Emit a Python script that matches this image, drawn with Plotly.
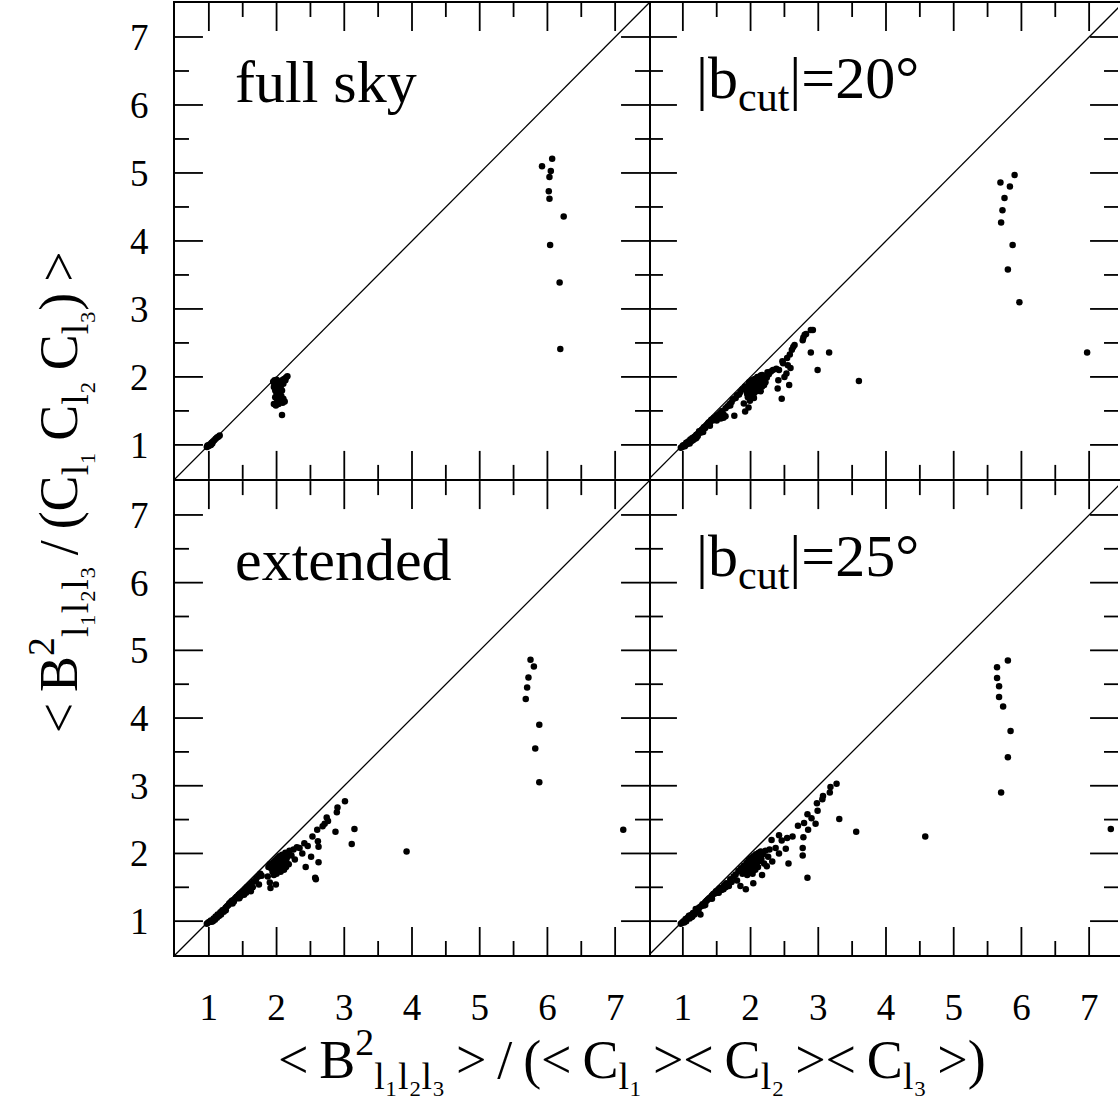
import plotly.graph_objects as go

# ---------------- data ----------------
ticks = [1, 2, 3, 4, 5, 6, 7]
minor_ticks = [1.5, 2.5, 3.5, 4.5, 5.5, 6.5]
diag = [0.5, 7.5]

fs_x = [0.97, 0.99, 1.00, 1.02, 1.04, 1.06, 1.08, 1.10, 1.12, 1.14, 1.16, 1.01, 1.03, 1.05, 0.98,
        1.95, 1.97, 1.99, 2.02, 2.05, 2.08, 2.11, 2.14, 2.16, 2.13, 2.10, 1.96, 1.98, 2.00, 2.02, 1.98,
        2.01, 2.04, 2.07, 2.10, 2.12, 2.09, 1.96, 1.99, 2.03, 2.06, 2.03, 2.08, 2.00, 1.97, 2.08, 2.05,
        6.07, 5.92, 6.05, 6.03, 6.02, 6.03, 6.24, 6.04, 6.18, 6.19]
fs_y = [0.97, 0.98, 1.00, 1.01, 1.03, 1.05, 1.07, 1.09, 1.11, 1.12, 1.14, 0.99, 1.00, 1.02, 0.99,
        1.93, 1.90, 1.88, 1.91, 1.93, 1.95, 1.97, 1.99, 2.01, 1.95, 1.90, 1.85, 1.80, 1.76, 1.72, 1.70,
        1.66, 1.68, 1.72, 1.68, 1.64, 1.62, 1.60, 1.58, 1.60, 1.84, 1.82, 1.80, 1.96, 1.95, 1.44, 1.76,
        5.21, 5.10, 5.03, 4.94, 4.73, 4.62, 4.36, 3.94, 3.39, 2.41]

b20_x = [0.97, 0.99, 1.00, 1.02, 1.03, 1.05, 1.06, 1.08, 1.09, 1.11, 1.12, 1.14, 1.15, 1.17, 1.18,
         1.20, 1.22, 1.24, 1.26, 1.28, 1.29, 1.31, 1.33, 1.35, 1.37, 1.38, 1.40, 1.42, 1.44, 1.46,
         1.48, 1.50, 1.52, 1.55, 1.56, 1.58, 1.60, 1.63, 1.63, 1.66, 1.69, 1.72, 1.76, 1.74, 1.78,
         1.80, 1.83, 1.85, 1.10, 1.20, 1.30, 1.40, 1.50, 1.60, 1.70,
         1.88, 1.90, 1.92, 1.92, 1.94, 1.95, 1.96, 1.97, 1.97, 1.98, 1.99, 2.00, 2.01, 2.02, 2.03,
         2.04, 2.05, 2.06, 2.07, 2.08, 2.09, 2.10, 2.11, 2.12, 2.12, 2.14, 2.15, 2.15, 2.17, 2.17,
         2.19, 2.22, 2.25, 2.30, 2.05, 1.99, 2.13, 2.20, 2.24, 2.27,
         2.33, 2.38, 2.42, 2.41, 2.40, 2.46, 2.47, 2.54, 2.57, 2.53, 2.59, 2.58, 2.61, 2.63, 2.65,
         2.77, 2.78, 2.80, 2.82, 2.89, 2.92, 2.89, 2.99, 3.16, 3.60, 2.48, 2.55, 2.50,
         5.90, 5.69, 5.83, 5.75, 5.72, 5.70, 5.87, 5.80, 5.97, 6.97]
b20_y = [0.96, 0.97, 0.99, 1.00, 0.98, 1.03, 1.01, 1.05, 1.03, 1.08, 1.05, 1.10, 1.07, 1.12, 1.09,
         1.15, 1.13, 1.20, 1.18, 1.22, 1.20, 1.26, 1.25, 1.29, 1.31, 1.33, 1.33, 1.37, 1.36, 1.40,
         1.39, 1.43, 1.44, 1.47, 1.39, 1.50, 1.45, 1.54, 1.42, 1.57, 1.60, 1.63, 1.43, 1.67, 1.69,
         1.73, 1.74, 1.78, 1.02, 1.10, 1.19, 1.28, 1.36, 1.40, 1.58,
         1.82, 1.61, 1.49, 1.86, 1.80, 1.75, 1.70, 1.55, 1.88, 1.92, 1.84, 1.78, 1.72, 1.95, 1.88,
         1.82, 1.76, 1.97, 1.91, 1.85, 1.79, 2.00, 1.94, 1.88, 1.98, 1.92, 1.79, 2.02, 2.03, 1.86,
         1.95, 1.92, 2.07, 2.08, 1.69, 1.65, 1.83, 1.88, 1.99, 2.04,
         2.10, 2.12, 2.10, 1.95, 1.83, 1.68, 2.23, 2.28, 1.88, 2.05, 2.13, 2.33, 2.40, 2.44, 2.47,
         2.54, 2.58, 2.62, 2.63, 2.69, 2.69, 2.36, 2.10, 2.36, 1.94, 2.20, 2.17, 2.00,
         4.97, 4.86, 4.80, 4.63, 4.45, 4.27, 3.94, 3.58, 3.10, 2.36]

ext_x = [0.97, 0.99, 1.01, 1.03, 1.04, 1.06, 1.07, 1.09, 1.10, 1.12, 1.13, 1.15, 1.17, 1.18, 1.20,
         1.22, 1.23, 1.25, 1.27, 1.29, 1.30, 1.32, 1.34, 1.36, 1.37, 1.39, 1.41, 1.42, 1.44, 1.46,
         1.47, 1.49, 1.51, 1.52, 1.54, 1.56, 1.58, 1.60, 1.62, 1.63, 1.66, 1.69, 1.70, 1.74, 1.73,
         1.78, 1.76, 1.15, 1.25, 1.35, 1.45, 1.55, 1.65,
         1.87, 1.90, 1.91, 1.99, 1.88, 1.90, 1.92, 1.94, 1.95, 1.96, 1.97, 1.98, 1.99, 2.00, 2.01,
         2.02, 2.03, 2.04, 2.05, 2.06, 2.07, 2.08, 2.09, 2.10, 2.11, 2.12, 2.13, 2.14, 2.15, 2.17,
         2.19, 2.18, 2.14, 2.22, 2.27, 2.25, 2.30,
         2.34, 2.38, 2.43, 2.46, 2.51, 2.53, 2.57, 2.60, 2.61, 2.62, 2.62, 2.68, 2.71, 2.74, 2.76,
         2.87, 2.89, 2.90, 3.01, 3.11, 3.15, 3.92, 2.41, 2.58,
         5.75, 5.80, 5.72, 5.70, 5.68, 5.88, 5.82, 5.88, 7.12]
ext_y = [0.96, 0.98, 0.99, 1.01, 0.99, 1.00, 1.04, 1.02, 1.07, 1.05, 1.10, 1.08, 1.13, 1.10, 1.16,
         1.14, 1.17, 1.20, 1.22, 1.24, 1.26, 1.28, 1.30, 1.31, 1.29, 1.34, 1.36, 1.34, 1.39, 1.41,
         1.37, 1.43, 1.45, 1.39, 1.48, 1.50, 1.45, 1.53, 1.44, 1.56, 1.59, 1.59, 1.63, 1.54, 1.66,
         1.67, 1.70, 1.08, 1.16, 1.26, 1.34, 1.42, 1.50,
         1.66, 1.57, 1.49, 1.54, 1.80, 1.84, 1.78, 1.73, 1.87, 1.68, 1.82, 1.90, 1.76, 1.70, 1.93,
         1.85, 1.79, 1.96, 1.88, 1.73, 1.82, 1.98, 1.91, 1.85, 1.76, 1.95, 2.01, 1.88, 1.93, 2.00,
         2.04, 1.84, 1.80, 1.97, 1.91, 2.06, 2.09,
         2.08, 2.00, 1.80, 2.11, 1.95, 2.25, 1.64, 2.35, 2.18, 2.10, 1.87, 2.40, 2.44, 2.53, 2.48,
         2.32, 2.61, 2.68, 2.77, 2.14, 2.36, 2.03, 2.15, 1.62,
         4.86, 4.76, 4.60, 4.45, 4.28, 3.90, 3.55, 3.05, 2.35]

b25_x = [0.97, 0.99, 1.01, 1.02, 1.04, 1.05, 1.07, 1.09, 1.10, 1.12, 1.14, 1.15, 1.17, 1.19, 1.20,
         1.22, 1.24, 1.26, 1.27, 1.29, 1.31, 1.33, 1.35, 1.37, 1.39, 1.41, 1.43, 1.45, 1.47, 1.49,
         1.51, 1.53, 1.55, 1.57, 1.60, 1.61, 1.64, 1.66, 1.68, 1.70, 1.72, 1.75, 1.78, 1.80, 1.82,
         1.85, 1.13, 1.23, 1.33, 1.43, 1.53, 1.63,
         1.86, 1.88, 1.90, 1.92, 1.93, 1.94, 1.95, 1.96, 1.97, 1.98, 1.99, 2.00, 2.01, 2.02, 2.03,
         2.04, 2.04, 2.05, 2.06, 2.07, 2.08, 2.09, 2.10, 2.11, 2.12, 2.13, 2.14, 2.15, 2.16, 2.17,
         2.18, 2.20, 2.22, 2.24, 2.26, 2.28,
         2.31, 2.32, 2.37, 2.42, 2.42, 2.46, 2.52, 2.54, 2.56, 2.62, 2.70, 2.77, 2.77, 2.78, 2.79,
         2.84, 2.85, 2.84, 2.90, 2.96, 2.98, 2.99, 3.06, 3.07, 3.17, 3.18, 3.27, 3.31, 3.56, 4.58,
         5.80, 5.64, 5.64, 5.67, 5.67, 5.73, 5.84, 5.80, 5.70, 7.32]
b25_y = [0.96, 0.98, 1.00, 0.98, 1.03, 1.00, 1.05, 1.08, 1.04, 1.09, 1.07, 1.12, 1.10, 1.18, 1.13,
         1.17, 1.20, 1.10, 1.22, 1.25, 1.23, 1.28, 1.30, 1.32, 1.34, 1.35, 1.38, 1.40, 1.41, 1.44,
         1.42, 1.47, 1.49, 1.46, 1.47, 1.53, 1.56, 1.52, 1.52, 1.62, 1.58, 1.66, 1.69, 1.60, 1.74,
         1.52, 1.06, 1.15, 1.24, 1.33, 1.42, 1.50,
         1.78, 1.70, 1.82, 1.75, 1.47, 1.86, 1.68, 1.79, 1.90, 1.73, 1.84, 1.93, 1.78, 1.88, 1.70,
         1.56, 1.96, 1.82, 1.91, 1.76, 1.99, 1.86, 1.94, 1.80, 2.01, 1.89, 1.97, 2.03, 1.92, 1.68,
         1.99, 1.85, 2.04, 1.81, 1.95, 2.06,
         2.20, 1.88, 2.08, 2.27, 2.00, 2.19, 2.07, 2.23, 1.85, 2.25, 2.41, 2.08, 1.97, 2.24, 2.45,
         2.58, 2.35, 1.64, 2.52, 2.44, 2.74, 2.63, 2.80, 2.85, 2.90, 2.98, 3.03, 2.51, 2.32, 2.25,
         4.85, 4.75, 4.59, 4.47, 4.31, 4.17, 3.81, 3.42, 2.90, 2.36]

panel_labels = ["full sky", "|b<sub>cut</sub>|=20°", "extended", "|b<sub>cut</sub>|=25°"]
xtitle = ("&lt;\u2009B<sup>2</sup><sub>l₁l₂l₃</sub>\u2009&gt;\u2009/\u2009(&lt;\u2009C<sub>l₁</sub>\u2009&gt;"
          "&lt;\u2009C<sub>l₂</sub>\u2009&gt;&lt;\u2009C<sub>l₃</sub>\u2009&gt;)")
ytitle = ("&lt;\u2009B<sup>2</sup><sub>l₁l₂l₃</sub>\u2009/\u2009(C<sub>l₁</sub>\u2009C<sub>l₂</sub>"
          "\u2009C<sub>l₃</sub>)\u2009&gt;")

# ---------------- geometry ----------------
W, H = 1120, 1110
ML, MR, MT, MB = 175, 0, 3, 155
LW = 2.2
MAJOR_LEN, MINOR_LEN, TICK_W = 28, 14, 1.8
pw = W - ML - MR
ph = H - MT - MB
left_w = 475
split_x = left_w / pw
bot_h = 475
split_y = bot_h / ph
gap_y = LW / ph
unit = left_w / 7.0
right_max = 0.5 + (pw - left_w) / unit
YR = [0.5, 7.5]
FONT = "Liberation Serif"

# panel index: 1 top-left, 2 top-right, 3 bottom-left, 4 bottom-right
panels = [
    (1, fs_x, fs_y, [0, split_x], [split_y + gap_y / 2, 1], False, True),
    (2, b20_x, b20_y, [split_x, 1], [split_y + gap_y / 2, 1], False, False),
    (3, ext_x, ext_y, [0, split_x], [0, split_y - gap_y / 2], True, True),
    (4, b25_x, b25_y, [split_x, 1], [0, split_y - gap_y / 2], True, False),
]


def tick_segments(xr, yr, wpx, hpx):
    """Inside tick marks on all four sides, built from the tick arrays."""
    xs, ys = [], []
    for vals, length in ((ticks, MAJOR_LEN), (minor_ticks, MINOR_LEN)):
        dx = length * (xr[1] - xr[0]) / wpx
        dy = length * (yr[1] - yr[0]) / hpx
        for t in vals:
            if xr[0] < t < xr[1]:
                xs += [t, t, None, t, t, None]
                ys += [yr[0], yr[0] + dy, None, yr[1], yr[1] - dy, None]
            if yr[0] < t < yr[1]:
                xs += [xr[0], xr[0] + dx, None, xr[1], xr[1] - dx, None]
                ys += [t, t, None, t, t, None]
    return xs, ys


fig = go.Figure()
layout = {}
for i, xs, ys, dx, dy, xlab, ylab in panels:
    xa, ya = f"x{i}", f"y{i}"
    xr = [0.5, 7.5] if dx[0] == 0 else [0.5, right_max]
    wpx = (dx[1] - dx[0]) * pw
    hpx = (dy[1] - dy[0]) * ph
    fig.add_trace(go.Scatter(x=diag, y=diag, xaxis=xa, yaxis=ya, mode="lines",
                             line=dict(color="black", width=1.3),
                             showlegend=False, hoverinfo="skip"))
    tx, ty = tick_segments(xr, YR, wpx, hpx)
    fig.add_trace(go.Scatter(x=tx, y=ty, xaxis=xa, yaxis=ya, mode="lines",
                             line=dict(color="black", width=TICK_W),
                             showlegend=False, hoverinfo="skip", cliponaxis=False))
    fig.add_trace(go.Scatter(x=xs, y=ys, xaxis=xa, yaxis=ya, mode="markers",
                             marker=dict(color="black", size=6.5, line=dict(width=0)),
                             showlegend=False))

    base = dict(showline=True, linewidth=LW, mirror=True, ticks="",
                tickmode="array", tickvals=ticks, ticktext=[str(t) for t in ticks],
                showgrid=False, zeroline=False,
                tickfont=dict(family=FONT, size=37, color="black"))
    layout[f"xaxis{i}"] = dict(domain=dx, range=xr, anchor=ya, linecolor="black",
                               showticklabels=xlab, ticklabelstandoff=18, **base)
    layout[f"yaxis{i}"] = dict(domain=dy, range=YR, anchor=xa,
                               linecolor=("black" if ylab else "rgba(0,0,0,0)"),
                               showticklabels=ylab, ticklabelstandoff=17, **base)

fig.update_layout(**layout)


def px_x(p):
    return (p - ML) / pw


def px_y(p):
    return 1 - (p - MT) / ph


label_pos = [(233, 82), (695, 82), (233, 560), (695, 560)]
for txt, (lx, ly) in zip(panel_labels, label_pos):
    fig.add_annotation(text=txt, xref="paper", yref="paper", x=px_x(lx), y=px_y(ly),
                       xanchor="left", yanchor="middle", showarrow=False,
                       font=dict(family=FONT, size=60, color="black"))

fig.add_annotation(text=xtitle, xref="paper", yref="paper", x=px_x(633), y=px_y(1059),
                   xanchor="center", yanchor="middle", showarrow=False,
                   font=dict(family=FONT, size=54, color="black"))
fig.add_annotation(text=ytitle, xref="paper", yref="paper", x=px_x(58), y=px_y(492),
                   xanchor="center", yanchor="middle", showarrow=False, textangle=-90,
                   font=dict(family=FONT, size=54, color="black"))

fig.update_layout(width=W, height=H, margin=dict(l=ML, r=MR, t=MT, b=MB),
                  paper_bgcolor="white", plot_bgcolor="white", showlegend=False)

fig.write_html("out.html")
